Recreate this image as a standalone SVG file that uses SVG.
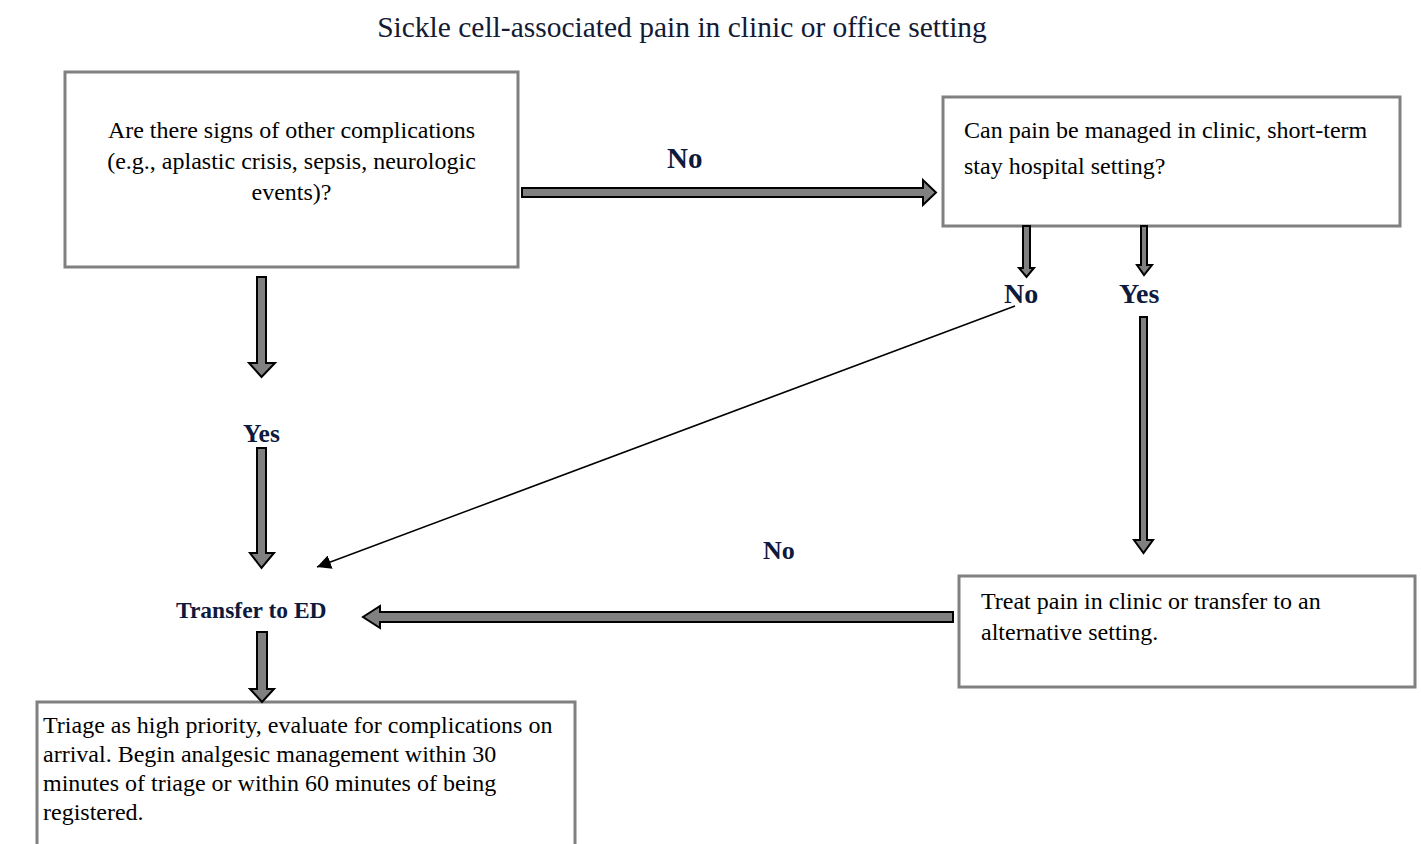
<svg xmlns="http://www.w3.org/2000/svg" width="1421" height="844" viewBox="0 0 1421 844">
<defs>
<style>
.box{fill:#fff;stroke:#808080;stroke-width:3}
.txt{font-family:"Liberation Serif","Times New Roman",serif;font-size:24px;fill:#000}
.lbl{font-family:"Liberation Serif","Times New Roman",serif;font-weight:bold;fill:#0e1a3d}
.title{font-family:"Liberation Serif","Times New Roman",serif;font-size:29.5px;fill:#141a33}
.blk{fill:#808080;stroke:#000;stroke-width:2;stroke-linejoin:miter}
.thin{fill:none;stroke:#000;stroke-width:1.5}
</style>
<marker id="ah" viewBox="0 0 10 10" refX="10" refY="5" markerWidth="14" markerHeight="14" markerUnits="userSpaceOnUse" orient="auto">
<path d="M0,0 L10,5 L0,10 z" fill="#000"/>
</marker>
</defs>
<rect width="1421" height="844" fill="#fff"/>
<text class="title" x="682" y="37" text-anchor="middle">Sickle cell-associated pain in clinic or office setting</text>

<g id="node-complications">
<rect class="box" x="65" y="72" width="453" height="195"/>
<text class="txt" x="291.5" y="138" text-anchor="middle">Are there signs of other complications</text>
<text class="txt" x="291.5" y="169" text-anchor="middle">(e.g., aplastic crisis, sepsis, neurologic</text>
<text class="txt" x="291.5" y="200" text-anchor="middle">events)?</text>
</g>

<g id="node-manage">
<rect class="box" x="943" y="97" width="457" height="129"/>
<text class="txt" x="964" y="138">Can pain be managed in clinic, short-term</text>
<text class="txt" x="964" y="174">stay hospital setting?</text>
</g>

<g id="node-treat">
<rect class="box" x="959" y="576" width="456" height="111"/>
<text class="txt" x="981" y="609">Treat pain in clinic or transfer to an</text>
<text class="txt" x="981" y="640">alternative setting.</text>
</g>

<g id="node-transfer">
<text class="lbl" x="176" y="618" font-size="23.5">Transfer to ED</text>
</g>

<g id="node-triage">
<path class="box" d="M37,850 V702 H575 V850"/>
<text class="txt" x="43" y="733">Triage as high priority, evaluate for complications on</text>
<text class="txt" x="43" y="762">arrival. Begin analgesic management within 30</text>
<text class="txt" x="43" y="791">minutes of triage or within 60 minutes of being</text>
<text class="txt" x="43" y="820">registered.</text>
</g>

<g id="connectors">
<polygon class="blk" points="522,188 923,188 923,180 936,192.5 923,205 923,197 522,197"/>
<polygon class="blk" points="257,277 266,277 266,363 275,363 261.5,377 249,363 257,363"/>
<polygon class="blk" points="257,448 266,448 266,553 274,553 261.5,568 250,553 257,553"/>
<polygon class="blk" points="257,632 267,632 267,689 274,689 262,702 250,689 257,689"/>
<polygon class="blk" points="1023,226 1030,226 1030,268 1034,268 1026.5,277 1019,268 1023,268"/>
<polygon class="blk" points="1141,226 1147,226 1147,265 1152,265 1144,275 1137,265 1141,265"/>
<polygon class="blk" points="1140,317 1147,317 1147,540 1153,540 1143.5,553 1134,540 1140,540"/>
<polygon class="blk" points="953,612 953,622 380,622 380,628 363,617 380,606 380,612"/>
<line class="thin" x1="1015" y1="306" x2="317" y2="567" marker-end="url(#ah)"/>
<text class="lbl" x="667" y="168" font-size="29">No</text>
<text class="lbl" x="243" y="442" font-size="25.5">Yes</text>
<text class="lbl" x="1004" y="303" font-size="28">No</text>
<text class="lbl" x="1119" y="303" font-size="28">Yes</text>
<text class="lbl" x="763" y="559" font-size="26">No</text>
</g>
</svg>
